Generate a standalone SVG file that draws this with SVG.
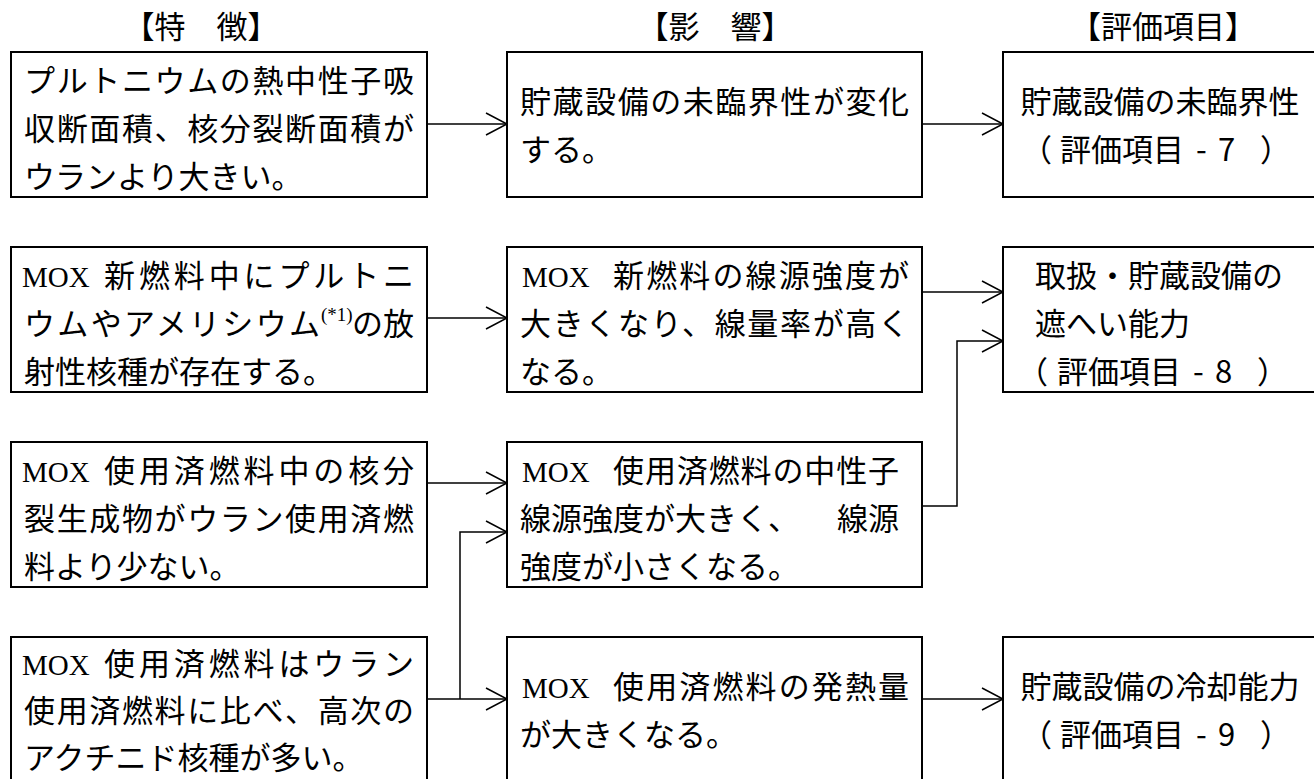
<svg xmlns="http://www.w3.org/2000/svg" width="1314" height="779" viewBox="0 0 1314 779">
<style>
.box{fill:#fff;stroke:#000;stroke-width:2}
.t{font-family:"Noto Sans CJK JP","Noto Sans CJK SC",sans-serif;font-size:31px;fill:#000}
.m{font-family:"Liberation Serif","Noto Sans CJK JP",serif;font-size:29px;fill:#000}
.s{font-family:"Liberation Serif",serif;font-size:19px;fill:#000}
.mid{text-anchor:middle}
.c{fill:none;stroke:#000;stroke-width:1.5}
</style>
<defs>
<marker id="a" markerUnits="userSpaceOnUse" markerWidth="24" markerHeight="26" viewBox="0 0 24 26" refX="22" refY="12" orient="auto">
<path d="M1,1 L22,12 L1,23" fill="none" stroke="#000" stroke-width="1.5"/>
</marker>
</defs>
<rect width="1314" height="779" fill="#fff"/>
<g id="headers">
<text class="t mid" x="201" y="38">【特　徴】</text>
<text class="t mid" x="715" y="38">【影　響】</text>
<text class="t mid" x="1163" y="38">【評価項目】</text>
</g>
<g id="connectors">
<path class="c" d="M427,124 H507" marker-end="url(#a)"/>
<path class="c" d="M922,124 H1003" marker-end="url(#a)"/>
<path class="c" d="M427,318 H507" marker-end="url(#a)"/>
<path class="c" d="M922,292 H1003" marker-end="url(#a)"/>
<path class="c" d="M922,506 H957 V341 H1003" marker-end="url(#a)"/>
<path class="c" d="M427,483 H507" marker-end="url(#a)"/>
<path class="c" d="M427,699 H507" marker-end="url(#a)"/>
<path class="c" d="M460,699 V532 H507" marker-end="url(#a)"/>
<path class="c" d="M922,699 H1003" marker-end="url(#a)"/>
</g>
<g id="n1">
<rect class="box" x="11" y="52" width="416" height="145"/>
<text class="t" x="24" y="92" textLength="390" lengthAdjust="spacing">プルトニウムの熱中性子吸</text>
<text class="t" x="24" y="140" textLength="390" lengthAdjust="spacing">収断面積、核分裂断面積が</text>
<text class="t" x="24" y="188">ウランより大きい。</text>
</g>
<g id="n2">
<rect class="box" x="507" y="52" width="415" height="145"/>
<text class="t" x="520" y="113" textLength="389" lengthAdjust="spacing">貯蔵設備の未臨界性が変化</text>
<text class="t" x="520" y="161">する。</text>
</g>
<g id="n3">
<rect class="box" x="1003" y="52" width="330" height="145"/>
<text class="t mid" x="1160" y="113">貯蔵設備の未臨界性</text>
<text class="t" y="161"><tspan x="1021">（</tspan><tspan x="1060">評価項目</tspan><tspan x="1196">-</tspan><tspan x="1218">7</tspan><tspan x="1260">）</tspan></text>
</g>
<g id="n4">
<rect class="box" x="11" y="247" width="416" height="145"/>
<text class="m" x="22" y="287">MOX</text>
<text class="t" x="104" y="287" textLength="310" lengthAdjust="spacing">新燃料中にプルトニ</text>
<text class="t" x="24" y="335" textLength="296" lengthAdjust="spacing">ウムやアメリシウム</text>
<text class="s" x="321" y="321">(*1)</text>
<text class="t" x="352" y="335">の放</text>
<text class="t" x="24" y="383">射性核種が存在する。</text>
</g>
<g id="n5">
<rect class="box" x="507" y="247" width="415" height="145"/>
<text class="m" x="522" y="287">MOX</text>
<text class="t" x="613" y="287" textLength="296" lengthAdjust="spacing">新燃料の線源強度が</text>
<text class="t" x="520" y="335" textLength="389" lengthAdjust="spacing">大きくなり、線量率が高く</text>
<text class="t" x="520" y="383">なる。</text>
</g>
<g id="n8">
<rect class="box" x="1003" y="247" width="330" height="145"/>
<text class="t" x="1035" y="287">取扱・貯蔵設備の</text>
<text class="t" x="1035" y="335">遮へい能力</text>
<text class="t" y="383"><tspan x="1017">（</tspan><tspan x="1057">評価項目</tspan><tspan x="1193">-</tspan><tspan x="1215">8</tspan><tspan x="1257">）</tspan></text>
</g>
<g id="n7">
<rect class="box" x="11" y="442" width="416" height="145"/>
<text class="m" x="22" y="482">MOX</text>
<text class="t" x="104" y="482" textLength="310" lengthAdjust="spacing">使用済燃料中の核分</text>
<text class="t" x="24" y="530" textLength="390" lengthAdjust="spacing">裂生成物がウラン使用済燃</text>
<text class="t" x="24" y="578">料より少ない。</text>
</g>
<g id="n6">
<rect class="box" x="507" y="442" width="415" height="145"/>
<text class="m" x="522" y="482">MOX</text>
<text class="t" x="613" y="482" textLength="286" lengthAdjust="spacing">使用済燃料の中性子</text>
<text class="t" x="520" y="530">線源強度が大きく、</text>
<text class="t" x="837" y="530">線源</text>
<text class="t" x="520" y="578">強度が小さくなる。</text>
</g>
<g id="n10">
<rect class="box" x="11" y="637" width="416" height="150"/>
<text class="m" x="22" y="675">MOX</text>
<text class="t" x="104" y="675" textLength="310" lengthAdjust="spacing">使用済燃料はウラン</text>
<text class="t" x="24" y="722" textLength="390" lengthAdjust="spacing">使用済燃料に比べ、高次の</text>
<text class="t" x="24" y="769">アクチニド核種が多い。</text>
</g>
<g id="n11">
<rect class="box" x="507" y="637" width="415" height="150"/>
<text class="m" x="522" y="698">MOX</text>
<text class="t" x="613" y="698" textLength="296" lengthAdjust="spacing">使用済燃料の発熱量</text>
<text class="t" x="520" y="746">が大きくなる。</text>
</g>
<g id="n12">
<rect class="box" x="1003" y="637" width="330" height="150"/>
<text class="t mid" x="1160" y="698">貯蔵設備の冷却能力</text>
<text class="t" y="746"><tspan x="1021">（</tspan><tspan x="1060">評価項目</tspan><tspan x="1196">-</tspan><tspan x="1218">9</tspan><tspan x="1260">）</tspan></text>
</g>
</svg>
